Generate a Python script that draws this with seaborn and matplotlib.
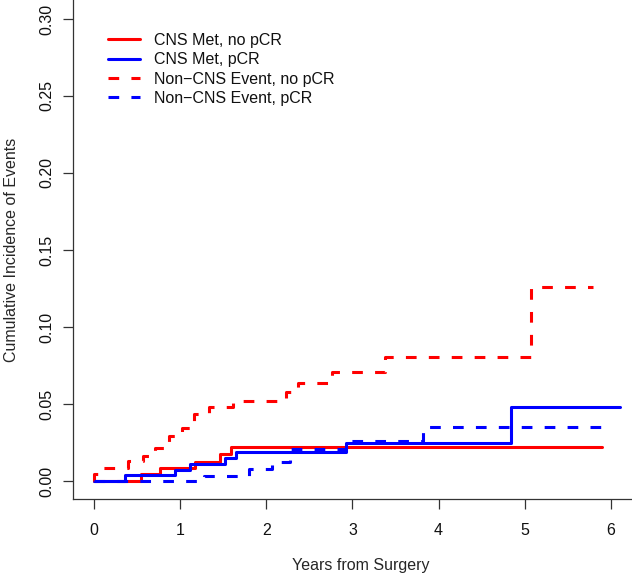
import numpy as np
import pandas as pd
import matplotlib
matplotlib.use("Agg")
import matplotlib.pyplot as plt
import seaborn as sns

# ---- data ----
series_names = ["CNS Met, no pCR", "CNS Met, pCR",
                "Non\u2212CNS Event, no pCR", "Non\u2212CNS Event, pCR"]

cns_nopcr_t = [0, 0.54, 0.76, 1.17, 1.46, 1.59, 5.90]
cns_nopcr_y = [0, 0.0045, 0.0087, 0.0125, 0.0173, 0.0223, 0.0223]

cns_pcr_t = [0, 0.36, 0.94, 1.11, 1.52, 1.65, 2.92, 4.84, 6.11]
cns_pcr_y = [0, 0.0037, 0.0074, 0.0110, 0.0148, 0.0186, 0.0245, 0.0480, 0.0480]

noncns_nopcr_t = [0, 0, 0.05, 0.39, 0.57, 0.70, 0.87, 1.02, 1.16, 1.33, 1.61,
                  2.23, 2.37, 2.76, 3.38, 5.07, 5.80]
noncns_nopcr_y = [0, 0.0045, 0.0083, 0.0132, 0.0164, 0.0212, 0.0294, 0.0342,
                  0.0435, 0.0478, 0.0521, 0.0580, 0.0638, 0.0710, 0.0807,
                  0.1258, 0.1258]

noncns_pcr_t = [0, 1.28, 1.80, 2.07, 2.27, 2.93, 3.82, 6.00]
noncns_pcr_y = [0, 0.0034, 0.0076, 0.0125, 0.0205, 0.0262, 0.0353, 0.0353]

x_ticks = [0, 1, 2, 3, 4, 5, 6]
y_ticks = [0.00, 0.05, 0.10, 0.15, 0.20, 0.25, 0.30]
x_label = "Years from Surgery"
y_label = "Cumulative Incidence of Events"

series_colors = ["#FF0000", "#0000FF", "#FF0000", "#0000FF"]

# ---- long-form table ----
rows = []
for name, ts, ys in zip(series_names,
                        [cns_nopcr_t, cns_pcr_t, noncns_nopcr_t, noncns_pcr_t],
                        [cns_nopcr_y, cns_pcr_y, noncns_nopcr_y, noncns_pcr_y]):
    for t, y in zip(ts, ys):
        rows.append({"series": name, "time": t, "ci": y})
df = pd.DataFrame(rows)

sns.set_style("ticks")
plt.rcParams["font.family"] = ["Liberation Sans", "DejaVu Sans"]
plt.rcParams["text.color"] = "#111111"
plt.rcParams["xtick.color"] = "#333333"
plt.rcParams["ytick.color"] = "#333333"
plt.rcParams["xtick.labelcolor"] = "#111111"
plt.rcParams["ytick.labelcolor"] = "#111111"

fig = plt.figure(figsize=(6.32, 5.77), dpi=100)
ax = fig.add_axes([73 / 632, 78 / 577, 575 / 632, 499 / 577])

palette = dict(zip(series_names, series_colors))
dash_map = dict(zip(series_names, ["", "", (3.5, 4.0), (3.5, 4.0)]))

sns.lineplot(data=df, x="time", y="ci", hue="series", style="series",
             hue_order=series_names, style_order=series_names,
             palette=palette, dashes=dash_map, estimator=None,
             drawstyle="steps-post", linewidth=2.2, ax=ax, legend="full")

ax.set_xlim(-0.2475, 6.4335)
ax.set_ylim(-0.0117, 0.3123)
ax.set_xticks(x_ticks)
ax.set_xticklabels([str(v) for v in x_ticks])
ax.set_yticks(y_ticks)
ax.set_yticklabels([f"{v:.2f}" for v in y_ticks])

for s in ["top", "right"]:
    ax.spines[s].set_visible(False)
for s in ["left", "bottom"]:
    ax.spines[s].set_color("#333333")
    ax.spines[s].set_linewidth(0.9)

ax.tick_params(axis="both", direction="out", length=7.2, width=0.9,
               labelsize=11.5)
ax.tick_params(axis="x", pad=10.0)
ax.tick_params(axis="y", pad=6.5)
for lab in ax.get_yticklabels():
    lab.set_rotation(90)
    lab.set_va("center")

ax.set_xlabel(x_label, fontsize=11.5, va="top")
ax.xaxis.set_label_coords(0.5, -0.118)
ax.set_ylabel(y_label, fontsize=11.5, va="center", ha="center")
ax.yaxis.set_label_coords(-0.107, 0.5)

handles, labels = ax.get_legend_handles_labels()
ax.legend(handles, labels, loc="upper left",
          bbox_to_anchor=(108 / 632, 1 - 33 / 577),
          bbox_transform=fig.transFigure, frameon=False, borderpad=0,
          borderaxespad=0, handlelength=1.99, handletextpad=0.87,
          labelspacing=0.27, fontsize=11.5)

fig.savefig("out.png", dpi=100)
